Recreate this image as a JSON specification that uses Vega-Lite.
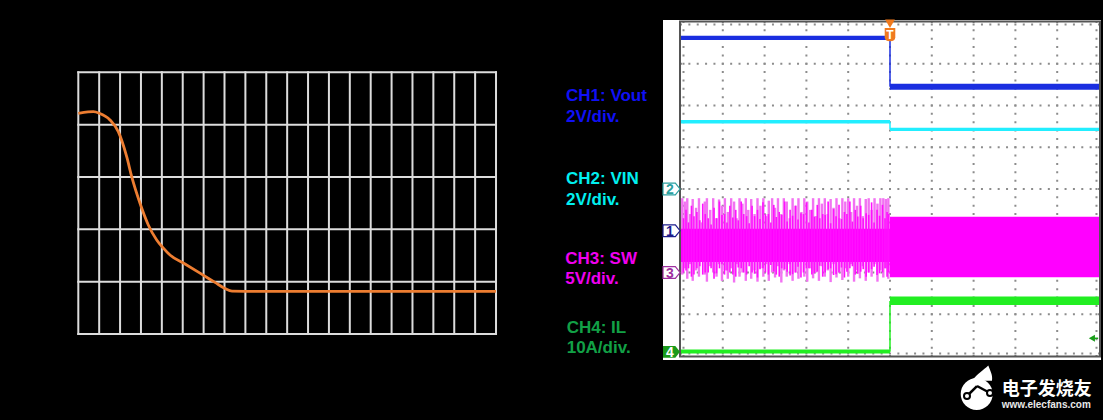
{
  "$schema": "https://vega.github.io/schema/vega-lite/v6.json",
  "background": "#000000",
  "padding": 0,
  "spacing": 0,
  "bounds": "flush",
  "config": {"view": {"stroke": null}, "font": "Liberation Sans"},
  "datasets": {
    "leftVGrid": [{"x":0},{"x":1},{"x":2},{"x":3},{"x":4},{"x":5},{"x":6},{"x":7},{"x":8},{"x":9},{"x":10},{"x":11},{"x":12},{"x":13},{"x":14},{"x":15},{"x":16},{"x":17},{"x":18},{"x":19},{"x":20}],
    "leftHGrid": [{"y":0},{"y":1},{"y":2},{"y":3},{"y":4},{"y":5}],
    "response": [{"t":0,"v":4.217},{"t":0.464,"v":4.243},{"t":0.718,"v":4.247},{"t":1.006,"v":4.217},{"t":1.518,"v":4.089},{"t":1.915,"v":3.865},{"t":2.317,"v":3.387},{"t":2.557,"v":3.005},{"t":2.954,"v":2.497},{"t":3.352,"v":2.083},{"t":3.754,"v":1.796},{"t":4.062,"v":1.646},{"t":4.391,"v":1.509},{"t":5.109,"v":1.336},{"t":5.827,"v":1.162},{"t":6.545,"v":0.986},{"t":7.024,"v":0.869},{"t":7.359,"v":0.818},{"t":8,"v":0.816},{"t":20,"v":0.816}],
    "scopeVGrid": [{"x":1},{"x":2},{"x":3},{"x":4},{"x":5},{"x":6},{"x":7},{"x":8},{"x":9}],
    "scopeHGrid": [{"y":1},{"y":2},{"y":3},{"y":4},{"y":5},{"y":6},{"y":7}],
    "traceLevels": [
      {"ch":"CH1","t0":0,"t1":5.0,"lo":7.57,"hi":7.67},
      {"ch":"CH1","t0":5.0,"t1":10,"lo":6.38,"hi":6.52},
      {"ch":"CH2","t0":0,"t1":5.0,"lo":5.57,"hi":5.65},
      {"ch":"CH2","t0":5.0,"t1":10,"lo":5.39,"hi":5.47},
      {"ch":"CH3","t0":0,"t1":5.0,"lo":2.25,"hi":3.05},
      {"ch":"CH3","t0":5.0,"t1":10,"lo":1.885,"hi":3.337},
      {"ch":"CH4","t0":0,"t1":5.0,"lo":0.06,"hi":0.156},
      {"ch":"CH4","t0":5.0,"t1":10,"lo":1.22,"hi":1.425}
    ],
    "traceSteps": [
      {"ch":"CH1","t":5.0,"from":7.62,"to":6.45},
      {"ch":"CH2","t":5.0,"from":5.61,"to":5.43},
      {"ch":"CH4","t":5.0,"from":0.1,"to":1.32}
    ],
    "swSpikes": [
      {"t":0.03,"lo":1.95,"hi":3.78},{"t":0.09,"lo":2.1,"hi":3.7},{"t":0.15,"lo":1.85,"hi":3.78},{"t":0.22,"lo":2.2,"hi":3.4},{"t":0.28,"lo":1.8,"hi":3.76},{"t":0.36,"lo":2.05,"hi":3.55},{"t":0.43,"lo":1.9,"hi":3.78},{"t":0.5,"lo":2.3,"hi":3.2},{"t":0.57,"lo":1.95,"hi":3.7},{"t":0.62,"lo":1.78,"hi":3.78},{"t":0.7,"lo":2.15,"hi":3.5},{"t":0.77,"lo":2.0,"hi":3.78},{"t":0.85,"lo":1.9,"hi":3.3},{"t":0.91,"lo":2.2,"hi":3.75},{"t":0.98,"lo":1.8,"hi":3.6},{"t":1.05,"lo":2.05,"hi":3.78},{"t":1.12,"lo":1.85,"hi":3.45},{"t":1.2,"lo":2.1,"hi":3.78},{"t":1.27,"lo":1.76,"hi":3.7},{"t":1.33,"lo":2.2,"hi":3.3},{"t":1.4,"lo":1.9,"hi":3.78},{"t":1.47,"lo":2.0,"hi":3.65},{"t":1.55,"lo":1.8,"hi":3.78},{"t":1.61,"lo":2.25,"hi":3.5},{"t":1.68,"lo":1.85,"hi":3.76},{"t":1.76,"lo":2.05,"hi":3.4},{"t":1.83,"lo":1.78,"hi":3.78},{"t":1.9,"lo":2.1,"hi":3.6},{"t":1.97,"lo":1.9,"hi":3.78},{"t":2.04,"lo":2.2,"hi":3.35},{"t":2.1,"lo":1.8,"hi":3.72},{"t":2.18,"lo":2.0,"hi":3.78},{"t":2.25,"lo":1.88,"hi":3.55},{"t":2.32,"lo":2.15,"hi":3.78},{"t":2.4,"lo":1.76,"hi":3.4},{"t":2.46,"lo":2.05,"hi":3.78},{"t":2.53,"lo":1.9,"hi":3.7},{"t":2.6,"lo":2.2,"hi":3.3},{"t":2.67,"lo":1.8,"hi":3.78},{"t":2.74,"lo":2.0,"hi":3.6},{"t":2.81,"lo":1.85,"hi":3.78},{"t":2.88,"lo":2.25,"hi":3.45},{"t":2.95,"lo":1.9,"hi":3.78},{"t":3.02,"lo":1.78,"hi":3.7},{"t":3.09,"lo":2.1,"hi":3.5},{"t":3.16,"lo":1.86,"hi":3.78},{"t":3.23,"lo":2.0,"hi":3.35},{"t":3.3,"lo":1.8,"hi":3.78},{"t":3.37,"lo":2.15,"hi":3.65},{"t":3.44,"lo":1.9,"hi":3.78},{"t":3.51,"lo":2.05,"hi":3.4},{"t":3.58,"lo":1.77,"hi":3.76},{"t":3.65,"lo":2.2,"hi":3.55},{"t":3.72,"lo":1.88,"hi":3.78},{"t":3.79,"lo":2.0,"hi":3.3},{"t":3.86,"lo":1.82,"hi":3.78},{"t":3.93,"lo":2.1,"hi":3.7},{"t":4.0,"lo":1.9,"hi":3.78},{"t":4.07,"lo":2.2,"hi":3.45},{"t":4.14,"lo":1.78,"hi":3.78},{"t":4.21,"lo":2.05,"hi":3.6},{"t":4.28,"lo":1.86,"hi":3.78},{"t":4.35,"lo":2.15,"hi":3.35},{"t":4.42,"lo":1.8,"hi":3.76},{"t":4.49,"lo":2.0,"hi":3.78},{"t":4.56,"lo":1.9,"hi":3.5},{"t":4.63,"lo":2.2,"hi":3.78},{"t":4.7,"lo":1.78,"hi":3.65},{"t":4.77,"lo":2.05,"hi":3.78},{"t":4.84,"lo":1.88,"hi":3.78},{"t":4.9,"lo":2.1,"hi":3.76},{"t":4.96,"lo":1.85,"hi":3.78}
    ],
    "swCore": [
      {"t":0.06,"lo":2.0,"hi":3.3},{"t":0.12,"lo":2.05,"hi":3.5},{"t":0.18,"lo":2.1,"hi":3.2},{"t":0.25,"lo":1.9,"hi":3.6},{"t":0.31,"lo":1.95,"hi":3.35},{"t":0.38,"lo":2.1,"hi":3.45},{"t":0.45,"lo":2.15,"hi":3.25},{"t":0.52,"lo":1.95,"hi":3.65},{"t":0.58,"lo":2.0,"hi":3.4},{"t":0.65,"lo":2.0,"hi":3.3},{"t":0.72,"lo":2.1,"hi":3.15},{"t":0.79,"lo":1.85,"hi":3.55},{"t":0.85,"lo":1.98,"hi":3.3},{"t":0.92,"lo":2.1,"hi":3.7},{"t":0.98,"lo":2.2,"hi":3.38},{"t":1.04,"lo":1.95,"hi":3.4},{"t":1.1,"lo":2.05,"hi":3.2},{"t":1.17,"lo":2.0,"hi":3.6},{"t":1.24,"lo":1.95,"hi":3.32},{"t":1.31,"lo":1.9,"hi":3.5},{"t":1.37,"lo":2.12,"hi":3.25},{"t":1.44,"lo":2.1,"hi":3.7},{"t":1.5,"lo":2.0,"hi":3.4},{"t":1.57,"lo":1.95,"hi":3.35},{"t":1.63,"lo":2.15,"hi":3.18},{"t":1.7,"lo":2.0,"hi":3.6},{"t":1.76,"lo":1.97,"hi":3.35},{"t":1.83,"lo":1.88,"hi":3.5},{"t":1.89,"lo":2.08,"hi":3.28},{"t":1.96,"lo":2.1,"hi":3.68},{"t":2.02,"lo":2.0,"hi":3.4},{"t":2.09,"lo":1.95,"hi":3.4},{"t":2.15,"lo":2.18,"hi":3.2},{"t":2.22,"lo":2.02,"hi":3.62},{"t":2.28,"lo":1.95,"hi":3.33},{"t":2.35,"lo":1.9,"hi":3.45},{"t":2.41,"lo":2.1,"hi":3.38},{"t":2.48,"lo":2.08,"hi":3.7},{"t":2.54,"lo":2.02,"hi":3.22},{"t":2.61,"lo":1.93,"hi":3.5},{"t":2.67,"lo":1.96,"hi":3.36},{"t":2.74,"lo":2.0,"hi":3.6},{"t":2.8,"lo":2.14,"hi":3.27},{"t":2.87,"lo":1.88,"hi":3.42},{"t":2.93,"lo":2.0,"hi":3.4},{"t":3.0,"lo":2.1,"hi":3.68},{"t":3.06,"lo":2.1,"hi":3.2},{"t":3.13,"lo":1.95,"hi":3.5},{"t":3.19,"lo":1.98,"hi":3.34},{"t":3.26,"lo":2.02,"hi":3.62},{"t":3.32,"lo":2.16,"hi":3.3},{"t":3.39,"lo":1.9,"hi":3.4},{"t":3.45,"lo":2.0,"hi":3.38},{"t":3.52,"lo":2.08,"hi":3.7},{"t":3.58,"lo":2.1,"hi":3.18},{"t":3.65,"lo":1.94,"hi":3.52},{"t":3.71,"lo":1.96,"hi":3.35},{"t":3.78,"lo":2.0,"hi":3.62},{"t":3.84,"lo":2.12,"hi":3.28},{"t":3.91,"lo":1.88,"hi":3.45},{"t":3.97,"lo":2.02,"hi":3.4},{"t":4.04,"lo":2.1,"hi":3.7},{"t":4.1,"lo":2.15,"hi":3.22},{"t":4.17,"lo":1.95,"hi":3.5},{"t":4.23,"lo":1.97,"hi":3.34},{"t":4.3,"lo":2.02,"hi":3.6},{"t":4.36,"lo":2.08,"hi":3.3},{"t":4.43,"lo":1.9,"hi":3.42},{"t":4.49,"lo":2.0,"hi":3.38},{"t":4.56,"lo":2.08,"hi":3.68},{"t":4.62,"lo":2.14,"hi":3.2},{"t":4.69,"lo":1.94,"hi":3.5},{"t":4.75,"lo":1.98,"hi":3.36},{"t":4.82,"lo":2.0,"hi":3.62},{"t":4.88,"lo":2.1,"hi":3.3},{"t":4.93,"lo":1.9,"hi":3.45},{"t":4.97,"lo":2.0,"hi":3.4}
    ],
    "chMarkers": [
      {"ch":"CH2","label":"2","level":4.0},
      {"ch":"CH1","label":"1","level":3.0},
      {"ch":"CH3","label":"3","level":2.0},
      {"ch":"CH4","label":"4","level":0.1}
    ]
  },
  "hconcat": [
    {
      "width": 540,
      "height": 420,
      "layer": [
        {
          "data": {"name": "leftVGrid"},
          "mark": {"type": "rule", "color": "#dcdcdc", "strokeWidth": 2, "strokeCap": "square"},
          "encoding": {
            "x": {"field": "x", "type": "quantitative", "scale": {"domain": [-3.749, 22.106], "nice": false, "zero": false}, "axis": null},
            "y": {"datum": 0, "type": "quantitative", "scale": {"domain": [-1.643, 6.381], "nice": false, "zero": false}, "axis": null},
            "y2": {"datum": 5}
          }
        },
        {
          "data": {"name": "leftHGrid"},
          "mark": {"type": "rule", "color": "#dcdcdc", "strokeWidth": 2, "strokeCap": "square"},
          "encoding": {
            "y": {"field": "y", "type": "quantitative", "scale": {"domain": [-1.643, 6.381], "nice": false, "zero": false}, "axis": null},
            "x": {"datum": 0, "type": "quantitative", "scale": {"domain": [-3.749, 22.106], "nice": false, "zero": false}, "axis": null},
            "x2": {"datum": 20}
          }
        },
        {
          "data": {"name": "response"},
          "mark": {"type": "line", "color": "#ed7d31", "strokeWidth": 2.8, "interpolate": "monotone"},
          "encoding": {
            "x": {"field": "t", "type": "quantitative", "scale": {"domain": [-3.749, 22.106], "nice": false, "zero": false}, "axis": null},
            "y": {"field": "v", "type": "quantitative", "scale": {"domain": [-1.643, 6.381], "nice": false, "zero": false}, "axis": null}
          }
        }
      ]
    },
    {
      "width": 563,
      "height": 420,
      "resolve": {"scale": {"color": "independent"}},
      "layer": [
        {
          "data": {"values": [{}]},
          "mark": {"type": "rect", "fill": "#ffffff"},
          "encoding": {
            "x": {"datum": -0.4306, "type": "quantitative", "scale": {"domain": [-3.3732, 10.0957], "nice": false, "zero": false}, "axis": null},
            "x2": {"datum": 10.0478},
            "y": {"datum": -0.0958, "type": "quantitative", "scale": {"domain": [-1.5329, 8.5269], "nice": false, "zero": false}, "axis": null},
            "y2": {"datum": 8.0479}
          }
        },
        {
          "data": {"name": "scopeVGrid"},
          "mark": {"type": "rule", "color": "#8c8c8c", "strokeWidth": 2, "strokeDash": [2, 6.35], "strokeDashOffset": 1},
          "encoding": {
            "x": {"field": "x", "type": "quantitative", "scale": {"domain": [-3.3732, 10.0957], "nice": false, "zero": false}, "axis": null},
            "y": {"datum": 0, "type": "quantitative", "scale": {"domain": [-1.5329, 8.5269], "nice": false, "zero": false}, "axis": null},
            "y2": {"datum": 8}
          }
        },
        {
          "data": {"name": "scopeHGrid"},
          "mark": {"type": "rule", "color": "#8c8c8c", "strokeWidth": 2, "strokeDash": [2, 6.36], "strokeDashOffset": 1},
          "encoding": {
            "y": {"field": "y", "type": "quantitative", "scale": {"domain": [-1.5329, 8.5269], "nice": false, "zero": false}, "axis": null},
            "x": {"datum": 0, "type": "quantitative", "scale": {"domain": [-3.3732, 10.0957], "nice": false, "zero": false}, "axis": null},
            "x2": {"datum": 10}
          }
        },
        {
          "data": {"values": [{}]},
          "mark": {"type": "rule", "color": "#8c8c8c", "strokeWidth": 2, "strokeDash": [2, 6.35], "strokeDashOffset": 1},
          "encoding": {
            "x": {"datum": 0.06, "type": "quantitative", "scale": {"domain": [-3.3732, 10.0957], "nice": false, "zero": false}, "axis": null},
            "y": {"datum": 0, "type": "quantitative", "scale": {"domain": [-1.5329, 8.5269], "nice": false, "zero": false}, "axis": null},
            "y2": {"datum": 8}
          }
        },
        {
          "data": {"values": [{}]},
          "mark": {"type": "rule", "color": "#8c8c8c", "strokeWidth": 2, "strokeDash": [2, 6.35], "strokeDashOffset": 1},
          "encoding": {
            "x": {"datum": 9.94, "type": "quantitative", "scale": {"domain": [-3.3732, 10.0957], "nice": false, "zero": false}, "axis": null},
            "y": {"datum": 0, "type": "quantitative", "scale": {"domain": [-1.5329, 8.5269], "nice": false, "zero": false}, "axis": null},
            "y2": {"datum": 8}
          }
        },
        {
          "data": {"values": [{}]},
          "mark": {"type": "rule", "color": "#8c8c8c", "strokeWidth": 2, "strokeDash": [2, 6.36], "strokeDashOffset": 1},
          "encoding": {
            "y": {"datum": 0.06, "type": "quantitative", "scale": {"domain": [-1.5329, 8.5269], "nice": false, "zero": false}, "axis": null},
            "x": {"datum": 0, "type": "quantitative", "scale": {"domain": [-3.3732, 10.0957], "nice": false, "zero": false}, "axis": null},
            "x2": {"datum": 10}
          }
        },
        {
          "data": {"values": [{}]},
          "mark": {"type": "rule", "color": "#8c8c8c", "strokeWidth": 2, "strokeDash": [2, 6.36], "strokeDashOffset": 1},
          "encoding": {
            "y": {"datum": 7.94, "type": "quantitative", "scale": {"domain": [-1.5329, 8.5269], "nice": false, "zero": false}, "axis": null},
            "x": {"datum": 0, "type": "quantitative", "scale": {"domain": [-3.3732, 10.0957], "nice": false, "zero": false}, "axis": null},
            "x2": {"datum": 10}
          }
        },
        {
          "data": {"values": [{}]},
          "mark": {"type": "rect", "fillOpacity": 0, "stroke": "#555555", "strokeWidth": 2},
          "encoding": {
            "x": {"datum": -0.024, "type": "quantitative", "scale": {"domain": [-3.3732, 10.0957], "nice": false, "zero": false}, "axis": null},
            "x2": {"datum": 10.024},
            "y": {"datum": -0.012, "type": "quantitative", "scale": {"domain": [-1.5329, 8.5269], "nice": false, "zero": false}, "axis": null},
            "y2": {"datum": 8.012}
          }
        },
        {
          "data": {"name": "swSpikes"},
          "mark": {"type": "rule", "color": "#f272f2", "strokeWidth": 2.4},
          "encoding": {
            "x": {"field": "t", "type": "quantitative", "scale": {"domain": [-3.3732, 10.0957], "nice": false, "zero": false}, "axis": null},
            "y": {"field": "lo", "type": "quantitative", "scale": {"domain": [-1.5329, 8.5269], "nice": false, "zero": false}, "axis": null},
            "y2": {"field": "hi"}
          }
        },
        {
          "data": {"name": "traceLevels"},
          "mark": {"type": "rect"},
          "encoding": {
            "x": {"field": "t0", "type": "quantitative", "scale": {"domain": [-3.3732, 10.0957], "nice": false, "zero": false}, "axis": null},
            "x2": {"field": "t1"},
            "y": {"field": "lo", "type": "quantitative", "scale": {"domain": [-1.5329, 8.5269], "nice": false, "zero": false}, "axis": null},
            "y2": {"field": "hi"},
            "color": {"field": "ch", "type": "nominal", "scale": {"domain": ["CH1", "CH2", "CH3", "CH4"], "range": ["#1a2ee0", "#22eeff", "#ff00ff", "#22ee22"]}, "legend": null}
          }
        },
        {
          "data": {"name": "swCore"},
          "mark": {"type": "rule", "color": "#ff10ff", "strokeWidth": 1.6},
          "encoding": {
            "x": {"field": "t", "type": "quantitative", "scale": {"domain": [-3.3732, 10.0957], "nice": false, "zero": false}, "axis": null},
            "y": {"field": "lo", "type": "quantitative", "scale": {"domain": [-1.5329, 8.5269], "nice": false, "zero": false}, "axis": null},
            "y2": {"field": "hi"}
          }
        },
        {
          "data": {"name": "traceSteps"},
          "mark": {"type": "rule", "strokeWidth": 1.5},
          "encoding": {
            "x": {"field": "t", "type": "quantitative", "scale": {"domain": [-3.3732, 10.0957], "nice": false, "zero": false}, "axis": null},
            "y": {"field": "from", "type": "quantitative", "scale": {"domain": [-1.5329, 8.5269], "nice": false, "zero": false}, "axis": null},
            "y2": {"field": "to"},
            "color": {"field": "ch", "type": "nominal", "scale": {"domain": ["CH1", "CH2", "CH4"], "range": ["#1a2ee0", "#22eeff", "#22ee22"]}, "legend": null}
          }
        },
        {
          "data": {"name": "chMarkers"},
          "transform": [{"filter": "datum.label != '4'"}],
          "mark": {"type": "point", "filled": false, "fill": "#ffffff", "fillOpacity": 1, "strokeWidth": 1.2, "size": 289, "shape": "M-1,-0.7L0.45,-0.7L1,0L0.45,0.7L-1,0.7Z"},
          "encoding": {
            "x": {"datum": -0.227, "type": "quantitative", "scale": {"domain": [-3.3732, 10.0957], "nice": false, "zero": false}, "axis": null},
            "y": {"field": "level", "type": "quantitative", "scale": {"domain": [-1.5329, 8.5269], "nice": false, "zero": false}, "axis": null},
            "stroke": {"field": "ch", "type": "nominal", "scale": {"domain": ["CH1", "CH2", "CH3"], "range": ["#1c1c8c", "#2aa0a0", "#a030a0"]}, "legend": null}
          }
        },
        {
          "data": {"name": "chMarkers"},
          "transform": [{"filter": "datum.label == '4'"}],
          "mark": {"type": "point", "filled": true, "color": "#1a9a1a", "opacity": 1, "size": 289, "shape": "M-1,-0.7L0.45,-0.7L1,0L0.45,0.7L-1,0.7Z"},
          "encoding": {
            "x": {"datum": -0.227, "type": "quantitative", "scale": {"domain": [-3.3732, 10.0957], "nice": false, "zero": false}, "axis": null},
            "y": {"field": "level", "type": "quantitative", "scale": {"domain": [-1.5329, 8.5269], "nice": false, "zero": false}, "axis": null}
          }
        },
        {
          "data": {"name": "chMarkers"},
          "mark": {"type": "text", "fontSize": 14, "fontWeight": "bold", "align": "center", "baseline": "middle", "dy": 1},
          "encoding": {
            "x": {"datum": -0.265, "type": "quantitative", "scale": {"domain": [-3.3732, 10.0957], "nice": false, "zero": false}, "axis": null},
            "y": {"field": "level", "type": "quantitative", "scale": {"domain": [-1.5329, 8.5269], "nice": false, "zero": false}, "axis": null},
            "text": {"field": "label"},
            "color": {"field": "ch", "type": "nominal", "scale": {"domain": ["CH1", "CH2", "CH3", "CH4"], "range": ["#1c1c8c", "#2aa0a0", "#a030a0", "#ffffff"]}, "legend": null}
          }
        },
        {
          "data": {"values": [{}]},
          "mark": {"type": "point", "shape": "triangle-down", "filled": true, "color": "#f07a1e", "opacity": 1, "size": 95},
          "encoding": {
            "x": {"datum": 5.0, "type": "quantitative", "scale": {"domain": [-3.3732, 10.0957], "nice": false, "zero": false}, "axis": null},
            "y": {"datum": 7.96, "type": "quantitative", "scale": {"domain": [-1.5329, 8.5269], "nice": false, "zero": false}, "axis": null}
          }
        },
        {
          "data": {"values": [{}]},
          "mark": {"type": "point", "shape": "M-0.8,-1L0.8,-1L0.8,0.4Q0.8,1 0,1Q-0.8,1 -0.8,0.4Z", "filled": true, "color": "#f07a1e", "opacity": 1, "size": 175},
          "encoding": {
            "x": {"datum": 5.0, "type": "quantitative", "scale": {"domain": [-3.3732, 10.0957], "nice": false, "zero": false}, "axis": null},
            "y": {"datum": 7.70, "type": "quantitative", "scale": {"domain": [-1.5329, 8.5269], "nice": false, "zero": false}, "axis": null}
          }
        },
        {
          "data": {"values": [{}]},
          "mark": {"type": "text", "text": "T", "fontSize": 12, "fontWeight": "bold", "color": "#ffffff", "align": "center", "baseline": "middle", "dy": 0.5},
          "encoding": {
            "x": {"datum": 5.0, "type": "quantitative", "scale": {"domain": [-3.3732, 10.0957], "nice": false, "zero": false}, "axis": null},
            "y": {"datum": 7.70, "type": "quantitative", "scale": {"domain": [-1.5329, 8.5269], "nice": false, "zero": false}, "axis": null}
          }
        },
        {
          "data": {"values": [{}]},
          "mark": {"type": "point", "shape": "triangle-left", "filled": true, "color": "#1a9e1a", "opacity": 1, "size": 50},
          "encoding": {
            "x": {"datum": 9.83, "type": "quantitative", "scale": {"domain": [-3.3732, 10.0957], "nice": false, "zero": false}, "axis": null},
            "y": {"datum": 0.424, "type": "quantitative", "scale": {"domain": [-1.5329, 8.5269], "nice": false, "zero": false}, "axis": null}
          }
        },
        {
          "data": {"values": [{}]},
          "mark": {"type": "rule", "color": "#1a9e1a", "strokeWidth": 1.5},
          "encoding": {
            "x": {"datum": 9.85, "type": "quantitative", "scale": {"domain": [-3.3732, 10.0957], "nice": false, "zero": false}, "axis": null},
            "x2": {"datum": 9.98},
            "y": {"datum": 0.424, "type": "quantitative", "scale": {"domain": [-1.5329, 8.5269], "nice": false, "zero": false}, "axis": null}
          }
        },
        {
          "data": {"values": [{}]},
          "mark": {"type": "text", "text": ["CH1: Vout", "2V/div."], "lineHeight": 21.5, "fontSize": 17, "fontWeight": "bold", "color": "#1010f5", "align": "left", "baseline": "alphabetic"},
          "encoding": {
            "x": {"datum": -2.751, "type": "quantitative", "scale": {"domain": [-3.3732, 10.0957], "nice": false, "zero": false}, "axis": null},
            "y": {"datum": 6.108, "type": "quantitative", "scale": {"domain": [-1.5329, 8.5269], "nice": false, "zero": false}, "axis": null}
          }
        },
        {
          "data": {"values": [{}]},
          "mark": {"type": "text", "text": ["CH2: VIN", "2V/div."], "lineHeight": 20.5, "fontSize": 17, "fontWeight": "bold", "color": "#00f0f0", "align": "left", "baseline": "alphabetic"},
          "encoding": {
            "x": {"datum": -2.751, "type": "quantitative", "scale": {"domain": [-3.3732, 10.0957], "nice": false, "zero": false}, "axis": null},
            "y": {"datum": 4.108, "type": "quantitative", "scale": {"domain": [-1.5329, 8.5269], "nice": false, "zero": false}, "axis": null}
          }
        },
        {
          "data": {"values": [{}]},
          "mark": {"type": "text", "text": ["CH3: SW", "5V/div."], "lineHeight": 20.5, "fontSize": 17, "fontWeight": "bold", "color": "#f000f0", "align": "left", "baseline": "alphabetic"},
          "encoding": {
            "x": {"datum": -2.77, "type": "quantitative", "scale": {"domain": [-3.3732, 10.0957], "nice": false, "zero": false}, "axis": null},
            "y": {"datum": 2.204, "type": "quantitative", "scale": {"domain": [-1.5329, 8.5269], "nice": false, "zero": false}, "axis": null}
          }
        },
        {
          "data": {"values": [{}]},
          "mark": {"type": "text", "text": ["CH4: IL", "10A/div."], "lineHeight": 20, "fontSize": 17, "fontWeight": "bold", "color": "#12a046", "align": "left", "baseline": "alphabetic"},
          "encoding": {
            "x": {"datum": -2.735, "type": "quantitative", "scale": {"domain": [-3.3732, 10.0957], "nice": false, "zero": false}, "axis": null},
            "y": {"datum": 0.551, "type": "quantitative", "scale": {"domain": [-1.5329, 8.5269], "nice": false, "zero": false}, "axis": null}
          }
        },
        {
          "data": {"values": [{}]},
          "mark": {"type": "point", "shape": "M-1,0.7C-0.5,0 0.1,-0.3 0.55,-0.75C0.75,-0.2 1,0.2 0.9,0.7Z", "filled": true, "color": "#ffffff", "opacity": 1, "size": 441},
          "encoding": {
            "x": {"datum": 7.213, "type": "quantitative", "scale": {"domain": [-3.3732, 10.0957], "nice": false, "zero": false}, "axis": null},
            "y": {"datum": -0.419, "type": "quantitative", "scale": {"domain": [-1.5329, 8.5269], "nice": false, "zero": false}, "axis": null}
          }
        },
        {
          "data": {"values": [{}]},
          "mark": {"type": "point", "shape": "circle", "filled": true, "color": "#ffffff", "opacity": 1, "size": 1020},
          "encoding": {
            "x": {"datum": 7.074, "type": "quantitative", "scale": {"domain": [-3.3732, 10.0957], "nice": false, "zero": false}, "axis": null},
            "y": {"datum": -0.91, "type": "quantitative", "scale": {"domain": [-1.5329, 8.5269], "nice": false, "zero": false}, "axis": null}
          }
        },
        {
          "data": {"values": [{}]},
          "mark": {"type": "rule", "color": "#000000", "strokeWidth": 2.5},
          "encoding": {
            "x": {"datum": 6.842, "type": "quantitative", "scale": {"domain": [-3.3732, 10.0957], "nice": false, "zero": false}, "axis": null},
            "x2": {"datum": 7.081},
            "y": {"datum": -0.958, "type": "quantitative", "scale": {"domain": [-1.5329, 8.5269], "nice": false, "zero": false}, "axis": null},
            "y2": {"datum": -0.719}
          }
        },
        {
          "data": {"values": [{}]},
          "mark": {"type": "rule", "color": "#000000", "strokeWidth": 2.5},
          "encoding": {
            "x": {"datum": 7.081, "type": "quantitative", "scale": {"domain": [-3.3732, 10.0957], "nice": false, "zero": false}, "axis": null},
            "x2": {"datum": 7.392},
            "y": {"datum": -0.719, "type": "quantitative", "scale": {"domain": [-1.5329, 8.5269], "nice": false, "zero": false}, "axis": null},
            "y2": {"datum": -0.886}
          }
        },
        {
          "data": {"values": [{}]},
          "mark": {"type": "point", "shape": "circle", "filled": true, "fill": "#ffffff", "stroke": "#000000", "strokeWidth": 2, "opacity": 1, "size": 36},
          "encoding": {
            "x": {"datum": 6.842, "type": "quantitative", "scale": {"domain": [-3.3732, 10.0957], "nice": false, "zero": false}, "axis": null},
            "y": {"datum": -0.958, "type": "quantitative", "scale": {"domain": [-1.5329, 8.5269], "nice": false, "zero": false}, "axis": null}
          }
        },
        {
          "data": {"values": [{}]},
          "mark": {"type": "point", "shape": "circle", "filled": true, "fill": "#ffffff", "stroke": "#000000", "strokeWidth": 2, "opacity": 1, "size": 36},
          "encoding": {
            "x": {"datum": 7.392, "type": "quantitative", "scale": {"domain": [-3.3732, 10.0957], "nice": false, "zero": false}, "axis": null},
            "y": {"datum": -0.886, "type": "quantitative", "scale": {"domain": [-1.5329, 8.5269], "nice": false, "zero": false}, "axis": null}
          }
        },
        {
          "data": {"values": [{}]},
          "mark": {"type": "text", "text": "电子发烧友", "font": "Noto Sans CJK SC", "fontSize": 18, "fontWeight": "bold", "color": "#ffffff", "align": "left", "baseline": "middle"},
          "encoding": {
            "x": {"datum": 7.672, "type": "quantitative", "scale": {"domain": [-3.3732, 10.0957], "nice": false, "zero": false}, "axis": null},
            "y": {"datum": -0.814, "type": "quantitative", "scale": {"domain": [-1.5329, 8.5269], "nice": false, "zero": false}, "axis": null}
          }
        },
        {
          "data": {"values": [{}]},
          "mark": {"type": "text", "text": "www.elecfans.com", "fontSize": 10, "fontWeight": "bold", "color": "#e8e8e8", "align": "left", "baseline": "middle"},
          "encoding": {
            "x": {"datum": 7.672, "type": "quantitative", "scale": {"domain": [-3.3732, 10.0957], "nice": false, "zero": false}, "axis": null},
            "y": {"datum": -1.162, "type": "quantitative", "scale": {"domain": [-1.5329, 8.5269], "nice": false, "zero": false}, "axis": null}
          }
        }
      ]
    }
  ]
}
